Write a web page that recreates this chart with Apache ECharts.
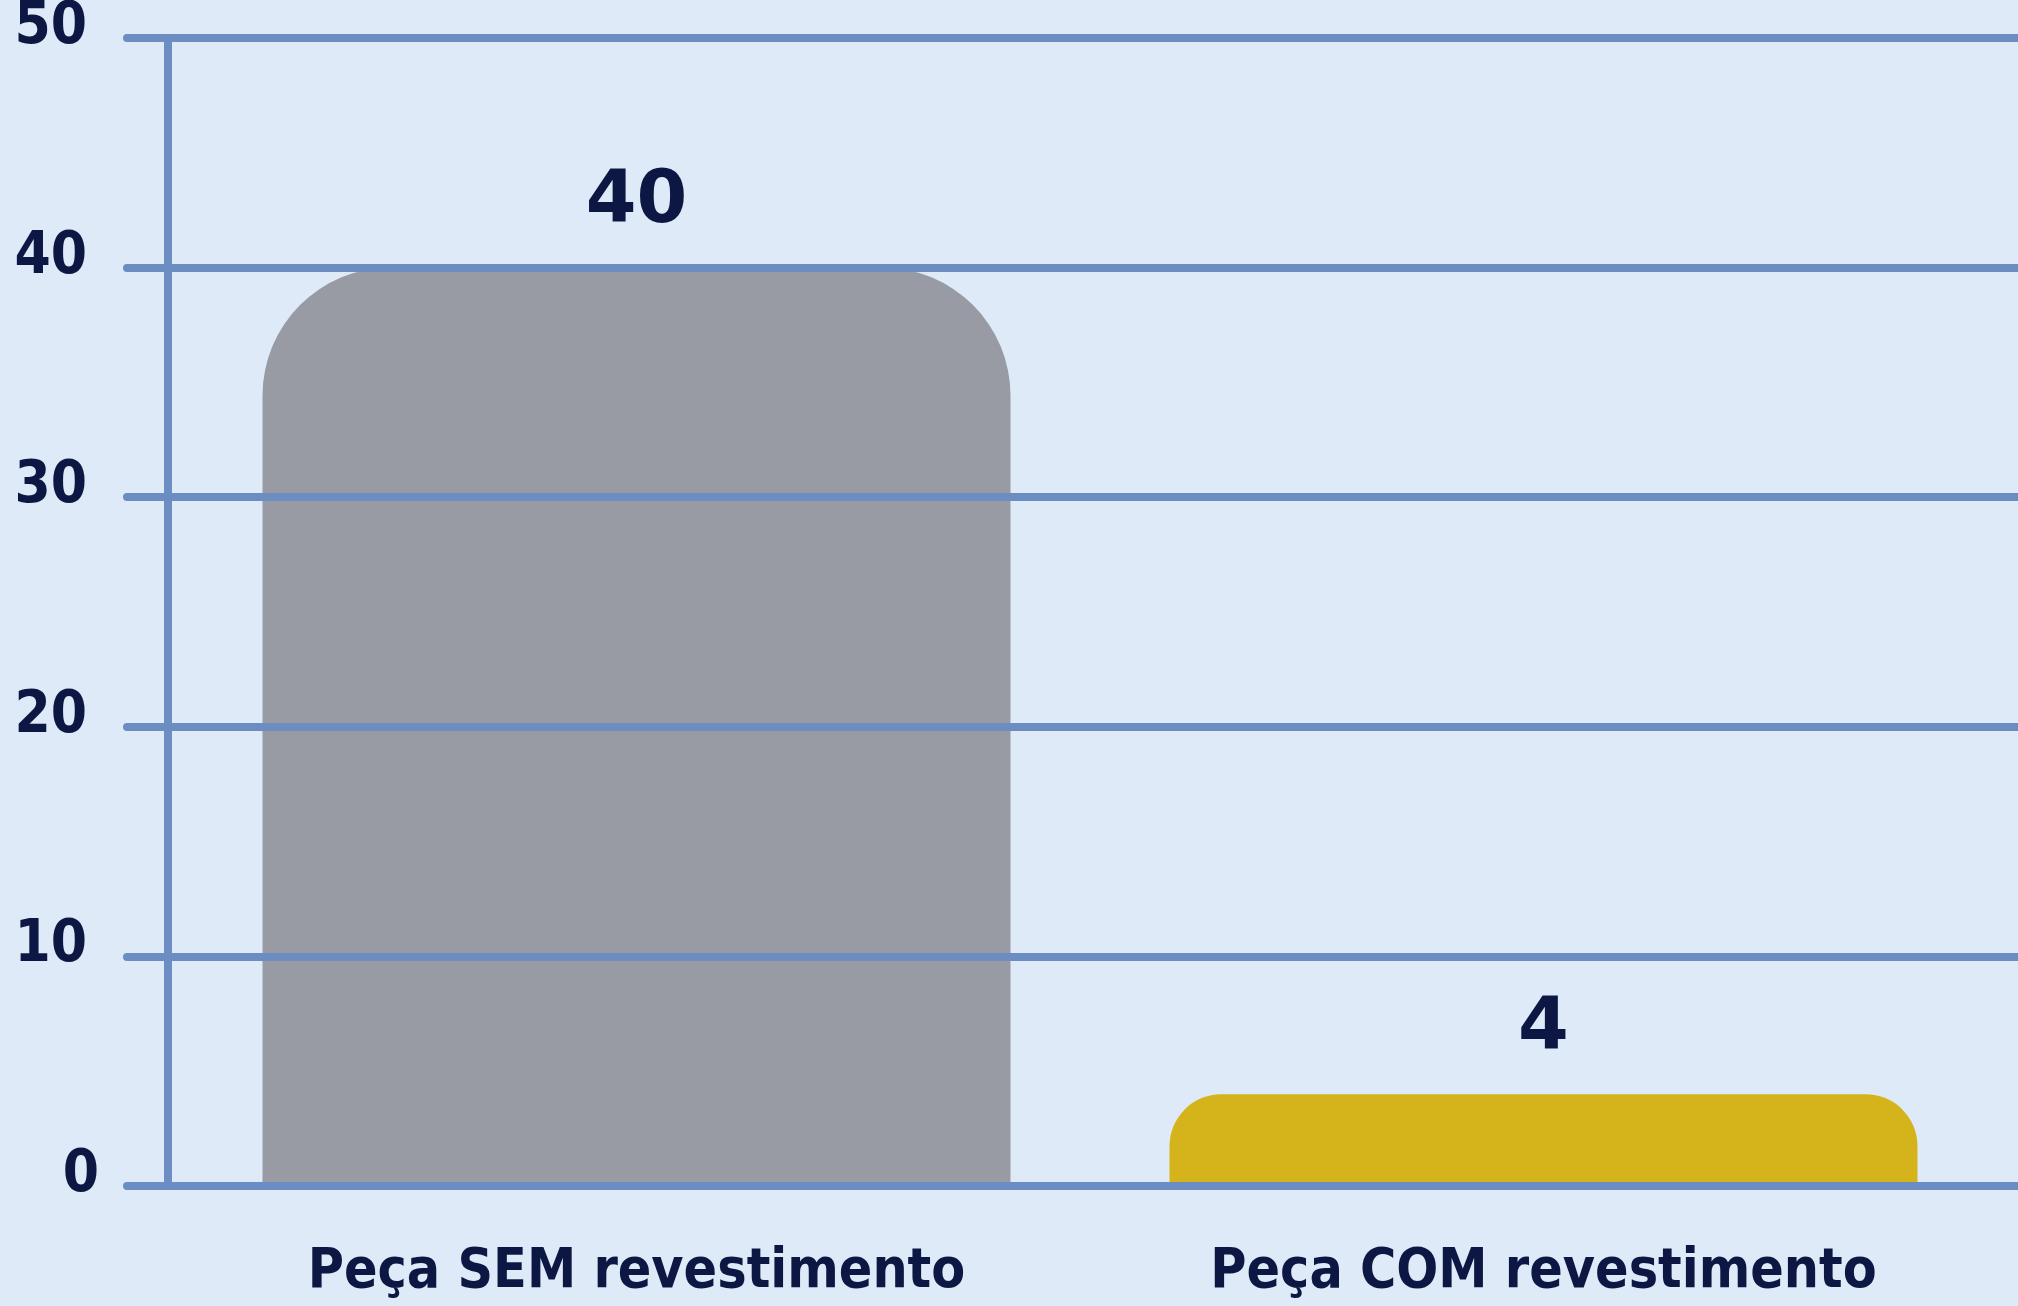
<!DOCTYPE html>
<html>
<head>
<meta charset="utf-8">
<title>Peça SEM / COM revestimento</title>
<script src="https://cdn.jsdelivr.net/npm/echarts@6/dist/echarts.min.js"></script>
<style>
  html, body { margin: 0; padding: 0; background: #deeaf7; }
  #chart { width: 2018px; height: 1306px; }
</style>
</head>
<body>
<div id="chart"></div>
<script>
// dados
var categorias = ['Peça SEM revestimento', 'Peça COM revestimento']
var valores = [40, 4]
var yMin = 0
var yMax = 50
var yIntervalo = 10

// estilo das barras
var coresBarras = ['#989ba3', '#d5b31a']
var raiosBarras = [128, 52]

var corLinha = '#6b8dc2'
var corTexto = '#0c1744'
// fonte estreita (condensada)
var fonteNarrow = "'DejaVu Sans', sans-serif"
var pesoNarrow = 'bold condensed'

var myChart = echarts.init(document.getElementById('chart'))

var estiloEixoY = {
  color: corTexto,
  fontFamily: fonteNarrow,
  fontWeight: pesoNarrow,
  fontSize: 58
}

var option = {
  backgroundColor: '#deeaf7',
  animation: false,
  grid: [
    // grade com eixos e linhas
    { left: 168, right: 0, top: 38, bottom: 120, outerBoundsMode: 'none' },
    // grade das barras
    { left: 183, right: 21, top: 38, bottom: 120, outerBoundsMode: 'none' }
  ],
  xAxis: [
    {
      gridIndex: 0,
      type: 'category',
      data: categorias,
      z: 5,
      axisLine: { show: true, lineStyle: { color: corLinha, width: 8 } },
      axisTick: { show: false },
      axisLabel: { show: false },
      splitLine: { show: false }
    },
    {
      gridIndex: 1,
      type: 'category',
      data: categorias,
      axisLine: { show: false },
      axisTick: { show: false },
      axisLabel: {
        margin: 59,
        interval: 0,
        color: corTexto,
        fontFamily: fonteNarrow,
        fontWeight: pesoNarrow,
        fontSize: 55
      }
    }
  ],
  yAxis: [
    {
      gridIndex: 0,
      type: 'value',
      min: yMin,
      max: yMax,
      interval: yIntervalo,
      z: 5,
      axisLine: { show: true, lineStyle: { color: corLinha, width: 8 } },
      axisTick: {
        show: true,
        length: 41,
        lineStyle: { color: corLinha, width: 8, cap: 'round' }
      },
      splitLine: { show: true, lineStyle: { color: corLinha, width: 8 } },
      axisLabel: Object.assign({
        margin: 69,
        padding: [0, 0, 20, 0],
        formatter: function (v) {
          // o zero fica um pouco mais à direita no original
          return v === 0 ? '{z|0}' : '{n|' + v + '}'
        },
        rich: {
          n: Object.assign({ padding: [0, 12, 0, 0] }, estiloEixoY),
          z: Object.assign({}, estiloEixoY)
        }
      }, estiloEixoY)
    },
    {
      gridIndex: 1,
      type: 'value',
      min: yMin,
      max: yMax,
      interval: yIntervalo,
      show: false,
      splitLine: { show: false }
    }
  ],
  series: [
    {
      type: 'bar',
      xAxisIndex: 1,
      yAxisIndex: 1,
      barWidth: 748,
      data: valores.map(function (v, i) {
        return {
          value: v,
          itemStyle: {
            color: coresBarras[i],
            borderRadius: [raiosBarras[i], raiosBarras[i], 0, 0]
          }
        }
      }),
      label: {
        show: true,
        position: 'top',
        distance: 28,
        color: corTexto,
        fontFamily: "'DejaVu Sans', Verdana, sans-serif",
        fontWeight: 'bold',
        fontSize: 73
      }
    }
  ]
}

myChart.setOption(option)
window.onresize = function () {
  myChart.resize()
}
</script>
</body>
</html>
